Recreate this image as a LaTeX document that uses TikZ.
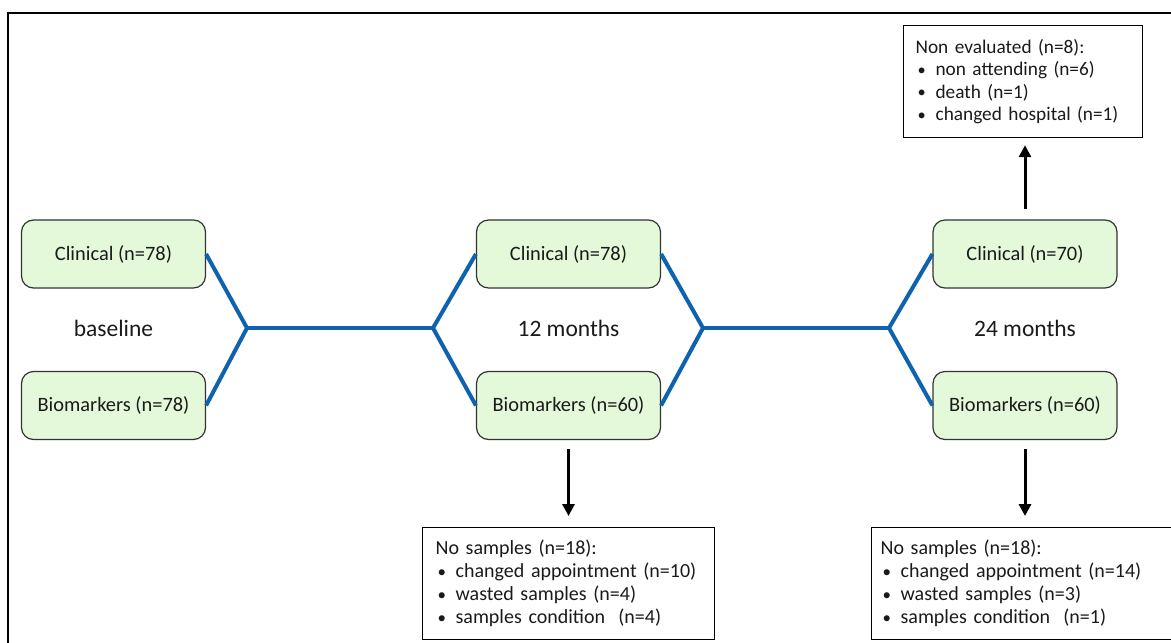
\documentclass[tikz,border=0pt]{standalone}
\usepackage{fontspec}
\setmainfont{Carlito}
\usetikzlibrary{arrows.meta}
\definecolor{boxgreen}{HTML}{E3F9DA}
\definecolor{linkblue}{HTML}{0F63AE}
\definecolor{ink}{HTML}{1A1A1A}
\newcommand\itm{\makebox[20pt][l]{\hspace{2pt}\raisebox{0.5pt}{\scalebox{0.85}{•}}}}
\begin{document}
\begin{tikzpicture}[x=1pt,y=-1pt,
  phase/.style={draw=black!80, line width=1.2pt, fill=boxgreen, rounded corners=12pt,
    minimum width=184pt, minimum height=68pt, inner sep=0pt, text=ink,
    font=\fontsize{20.4}{24}\selectfont},
  lbl/.style={text=ink, font=\fontsize{23.5}{28}\selectfont},
  note/.style={draw=black, line width=1.2pt, align=left, anchor=north west,
    inner xsep=13pt, inner ysep=0pt, minimum height=112pt, text=ink,
    font=\fontsize{20}{23}\selectfont},
  link/.style={draw=linkblue, line width=4pt, line join=miter},
  drop/.style={draw=black, line width=3pt, -{Triangle[length=12pt,width=12pt]}}]
\useasboundingbox (0,0) rectangle (1171,643);
\clip (0,0) rectangle (1171,643);
\draw[line width=2pt] (8,13) rectangle (1250,720);

% phase boxes
\node[phase] (c0)  at (113.5,254) {Clinical (n=78)};
\node[phase] (b0)  at (113.5,405.5) {Biomarkers (n=78)};
\node[phase] (c12) at (568.5,254) {Clinical (n=78)};
\node[phase] (b12) at (568.5,405.5) {Biomarkers (n=60)};
\node[phase] (c24) at (1025,254) {Clinical (n=70)};
\node[phase] (b24) at (1025,405.5) {Biomarkers (n=60)};

\node[lbl] (l0)  at (113.5,328) {baseline};
\node[lbl] (l12) at (568.5,328) {12 months};
\node[lbl] (l24) at (1025,328) {24 months};

% branching connectors
\coordinate (j1) at (247,328);
\coordinate (j2) at (433,328);
\coordinate (j3) at (703,328);
\coordinate (j4) at (889,328);
\draw[link] (c0.east) -- (j1) -- (b0.east);
\draw[link] (j1) -- (j2);
\draw[link] (c12.west) -- (j2) -- (b12.west);
\draw[link] (c12.east) -- (j3) -- (b12.east);
\draw[link] (j3) -- (j4);
\draw[link] (c24.west) -- (j4) -- (b24.west);

% notes
\node[note, text width=215pt, inner xsep=12pt, font=\fontsize{19.3}{22.5}\selectfont] (ne) at (903,25)
  {Non evaluated (n=8):\\\itm non attending (n=6)\\\itm death (n=1)\\\itm changed hospital (n=1)};
\node[note, text width=266pt] (ns12) at (422,527)
  {No samples (n=18):\\\itm changed appointment (n=10)\\\itm wasted samples (n=4)\\\itm samples condition~ (n=4)};
\node[note, text width=300pt, inner xsep=9pt] (ns24) at (871,527)
  {No samples (n=18):\\\itm changed appointment (n=14)\\\itm wasted samples (n=3)\\\itm samples condition~ (n=1)};

% arrows
\draw[drop, shorten <=10pt, shorten >=7pt] (c24.north) -- (c24.north |- ne.south);
\draw[drop, shorten <=9pt, shorten >=11pt] (b12.south) -- (b12.south |- ns12.north);
\draw[drop, shorten <=9pt, shorten >=11pt] (b24.south) -- (b24.south |- ns24.north);
\end{tikzpicture}
\end{document}
